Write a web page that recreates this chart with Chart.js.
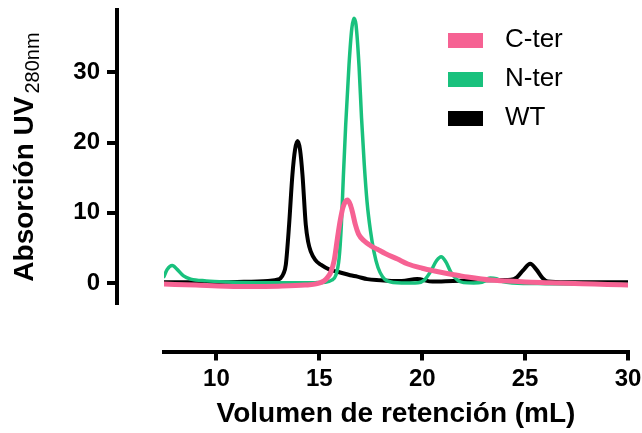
<!DOCTYPE html>
<html>
<head>
<meta charset="utf-8">
<script src="https://cdn.jsdelivr.net/npm/chart.js@4.4.1/dist/chart.umd.min.js"></script>
<style>
  html, body { margin: 0; padding: 0; background: #fff; }
  canvas { display: block; }
</style>
</head>
<body>
<canvas id="chart" width="642" height="433"></canvas>
<script>
// Size-exclusion chromatograms: UV absorbance at 280 nm vs. retention volume
const seriesNames = ['C-ter', 'N-ter', 'WT'];
const seriesColors = ['#F66293', '#19C17D', '#000000'];

const cterVolume = [7.45, 9, 10.5, 11.7, 13, 14.3, 14.9, 15.23, 15.4, 15.55, 15.72, 15.88, 16.02, 16.15, 16.36, 16.5, 16.6, 16.75, 16.9, 17.17, 17.5, 17.82, 18.2, 18.8, 19.3, 20.0, 20.6, 21.2, 21.7, 22.2, 22.8, 23.3, 24, 25, 26.2, 27.8, 29, 30];
const cterAbs    = [-0.15, -0.3, -0.45, -0.5, -0.45, -0.3, -0.1, 0.3, 0.8, 1.5, 3.2, 6.4, 9.0, 10.8, 11.8, 11.2, 10.2, 8.3, 7.0, 6.0, 5.3, 4.8, 4.2, 3.4, 2.7, 2.1, 1.7, 1.35, 1.1, 0.85, 0.6, 0.42, 0.3, 0.15, 0.05, -0.1, -0.2, -0.3];

const nterVolume = [7.45, 7.6, 7.85, 8.1, 8.4, 8.75, 9.5, 10.5, 12, 13.5, 14.8, 15.3, 15.6, 15.8, 15.96, 16.07, 16.17, 16.28, 16.44, 16.58, 16.68, 16.78, 16.93, 17.05, 17.18, 17.32, 17.48, 17.65, 17.85, 18.07, 18.3, 19.0, 19.8, 20.1, 20.4, 20.7, 20.92, 21.15, 21.4, 21.7, 22.0, 22.5, 22.9, 23.3, 23.6, 23.9, 24.4, 26, 28, 30];
const nterAbs    = [0.9, 1.9, 2.5, 1.9, 1.0, 0.55, 0.3, 0.15, 0.05, 0.02, 0.05, 0.1, 0.4, 1.1, 3.5, 8.3, 15.4, 22.5, 31.0, 36.3, 37.7, 36.8, 30.8, 23.5, 17.0, 11.5, 7.5, 4.5, 2.2, 0.9, 0.3, 0.0, 0.05, 0.4, 1.6, 3.2, 3.75, 3.0, 1.5, 0.45, 0.05, 0.0, 0.1, 0.7, 0.6, 0.2, 0.0, -0.1, -0.15, -0.2];

const wtVolume = [7.45, 9, 11, 12.5, 13.0, 13.12, 13.25, 13.37, 13.53, 13.69, 13.82, 13.94, 14.06, 14.18, 14.34, 14.46, 14.58, 14.8, 15.07, 15.5, 15.88, 16.5, 16.85, 17.33, 17.98, 18.5, 19.0, 19.75, 20.5, 21.5, 22.2, 23.5, 24.3, 24.6, 24.9, 25.25, 25.55, 25.85, 26.1, 27, 30];
const wtAbs    = [0.1, 0.1, 0.15, 0.3, 0.5, 0.7, 1.3, 2.6, 8.3, 15.4, 19.0, 20.2, 19.0, 15.4, 8.3, 5.8, 4.5, 3.3, 2.6, 1.9, 1.6, 1.1, 0.9, 0.55, 0.4, 0.3, 0.3, 0.55, 0.2, 0.3, 0.35, 0.4, 0.45, 0.8, 1.8, 2.75, 1.9, 0.7, 0.2, 0.1, 0.1];

const xTickValues = [10, 15, 20, 25, 30];
const yTickValues = [0, 10, 20, 30];

const FONT = "'Liberation Sans', Arial, Helvetica, sans-serif";

function toPoints(vol, abs) {
  return vol.map((v, i) => ({ x: v, y: abs[i] }));
}

// Legend swatch: filled bar on the left of a wider transparent canvas,
// which leaves a wider gap between the swatch and its label.
function swatch(color) {
  const c = document.createElement('canvas');
  c.width = 44; c.height = 15;
  const g = c.getContext('2d');
  g.fillStyle = color;
  g.fillRect(0, 0, 35, 15);
  return c;
}

// Axes sit apart from the plotting area: the y axis is moved left
// and the x axis is moved down, leaving the data scale untouched.
const axisPlacement = {
  id: 'axisPlacement',
  afterLayout(chart) {
    const x = chart.scales.x, y = chart.scales.y;
    y.left = 0; y.right = 117;
    x.top = 351.5; x.bottom = 433;
    const lg = chart.legend;
    lg.left = 435; lg.top = 14; lg.right = 642; lg.bottom = 300;
    lg.width = lg.right - lg.left; lg.height = lg.bottom - lg.top;
  }
};

// Y axis title with subscript wavelength
const yTitle = {
  id: 'yTitle',
  afterDraw(chart) {
    const ctx = chart.ctx;
    const main = 'Absorción UV', sub = '280nm';
    const mainFont = `bold 28px ${FONT}`, subFont = `20px ${FONT}`;
    const gap = 3;
    ctx.save();
    ctx.font = mainFont; const wm = ctx.measureText(main).width;
    ctx.font = subFont; const ws = ctx.measureText(sub).width;
    const total = wm + gap + ws;
    ctx.translate(33, 157);
    ctx.rotate(-Math.PI / 2);
    ctx.fillStyle = '#000';
    ctx.textAlign = 'left';
    ctx.textBaseline = 'alphabetic';
    ctx.font = mainFont;
    ctx.fillText(main, -total / 2, 0);
    ctx.font = subFont;
    ctx.fillText(sub, -total / 2 + wm + gap, 6);
    ctx.restore();
  }
};

const series = [
  [cterVolume, cterAbs, 5],
  [nterVolume, nterAbs, 3.5],
  [wtVolume, wtAbs, 4]
];

new Chart(document.getElementById('chart'), {
  type: 'line',
  data: {
    datasets: series.map(([vol, abs, w], i) => ({
      label: seriesNames[i],
      data: toPoints(vol, abs),
      borderColor: seriesColors[i],
      backgroundColor: seriesColors[i],
      borderWidth: w,
      pointRadius: 0,
      fill: false,
      cubicInterpolationMode: 'monotone',
      borderJoinStyle: 'round',
      borderCapStyle: 'round'
    }))
  },
  options: {
    responsive: false,
    animation: false,
    devicePixelRatio: 1,
    layout: { padding: { top: 10, right: 14, bottom: 0, left: 0 } },
    scales: {
      x: {
        type: 'linear',
        min: 7.45,
        max: 30,
        afterBuildTicks: s => { s.ticks = xTickValues.map(v => ({ value: v })); },
        afterFit: s => { s.height = 130; s.paddingLeft = 0; s.paddingRight = 0; s.paddingTop = 0; s.paddingBottom = 0; },
        ticks: {
          color: '#000',
          font: { family: FONT, size: 24, weight: 'bold' },
          padding: 4,
          maxRotation: 0,
          autoSkip: false
        },
        grid: { drawOnChartArea: false, drawTicks: true, tickLength: 9, lineWidth: 4, tickWidth: 4, color: '#000', tickColor: '#000' },
        border: { display: true, width: 4, color: '#000' },
        title: {
          display: true,
          text: 'Volumen de retención (mL)',
          color: '#000',
          font: { family: FONT, size: 28, weight: 'bold' },
          padding: { top: 0, bottom: 2 }
        }
      },
      y: {
        type: 'linear',
        min: -2.85,
        max: 38.87,
        afterBuildTicks: s => { s.ticks = yTickValues.map(v => ({ value: v })); },
        afterFit: s => { s.width = 164; s.paddingLeft = 0; s.paddingRight = 0; s.paddingTop = 0; s.paddingBottom = 0; },
        ticks: {
          color: '#000',
          font: { family: FONT, size: 24, weight: 'bold' },
          padding: 7
        },
        grid: { drawOnChartArea: false, drawTicks: true, tickLength: 10, lineWidth: 4, tickWidth: 4, color: '#000', tickColor: '#000' },
        border: { display: true, width: 4, color: '#000' },
        title: { display: false }
      }
    },
    plugins: {
      tooltip: { enabled: false },
      legend: {
        display: true,
        position: 'chartArea',
        align: 'start',
        labels: {
          usePointStyle: true,
          pointStyleWidth: 44,
          boxHeight: 15,
          padding: 13,
          color: '#000',
          font: { family: FONT, size: 26, weight: 'normal' },
          generateLabels: () => seriesNames.map((name, i) => ({
            text: name,
            fillStyle: seriesColors[i],
            strokeStyle: seriesColors[i],
            fontColor: '#000',
            lineWidth: 0,
            pointStyle: swatch(seriesColors[i]),
            datasetIndex: i,
            hidden: false
          }))
        }
      }
    }
  },
  plugins: [axisPlacement, yTitle]
});
</script>
</body>
</html>
